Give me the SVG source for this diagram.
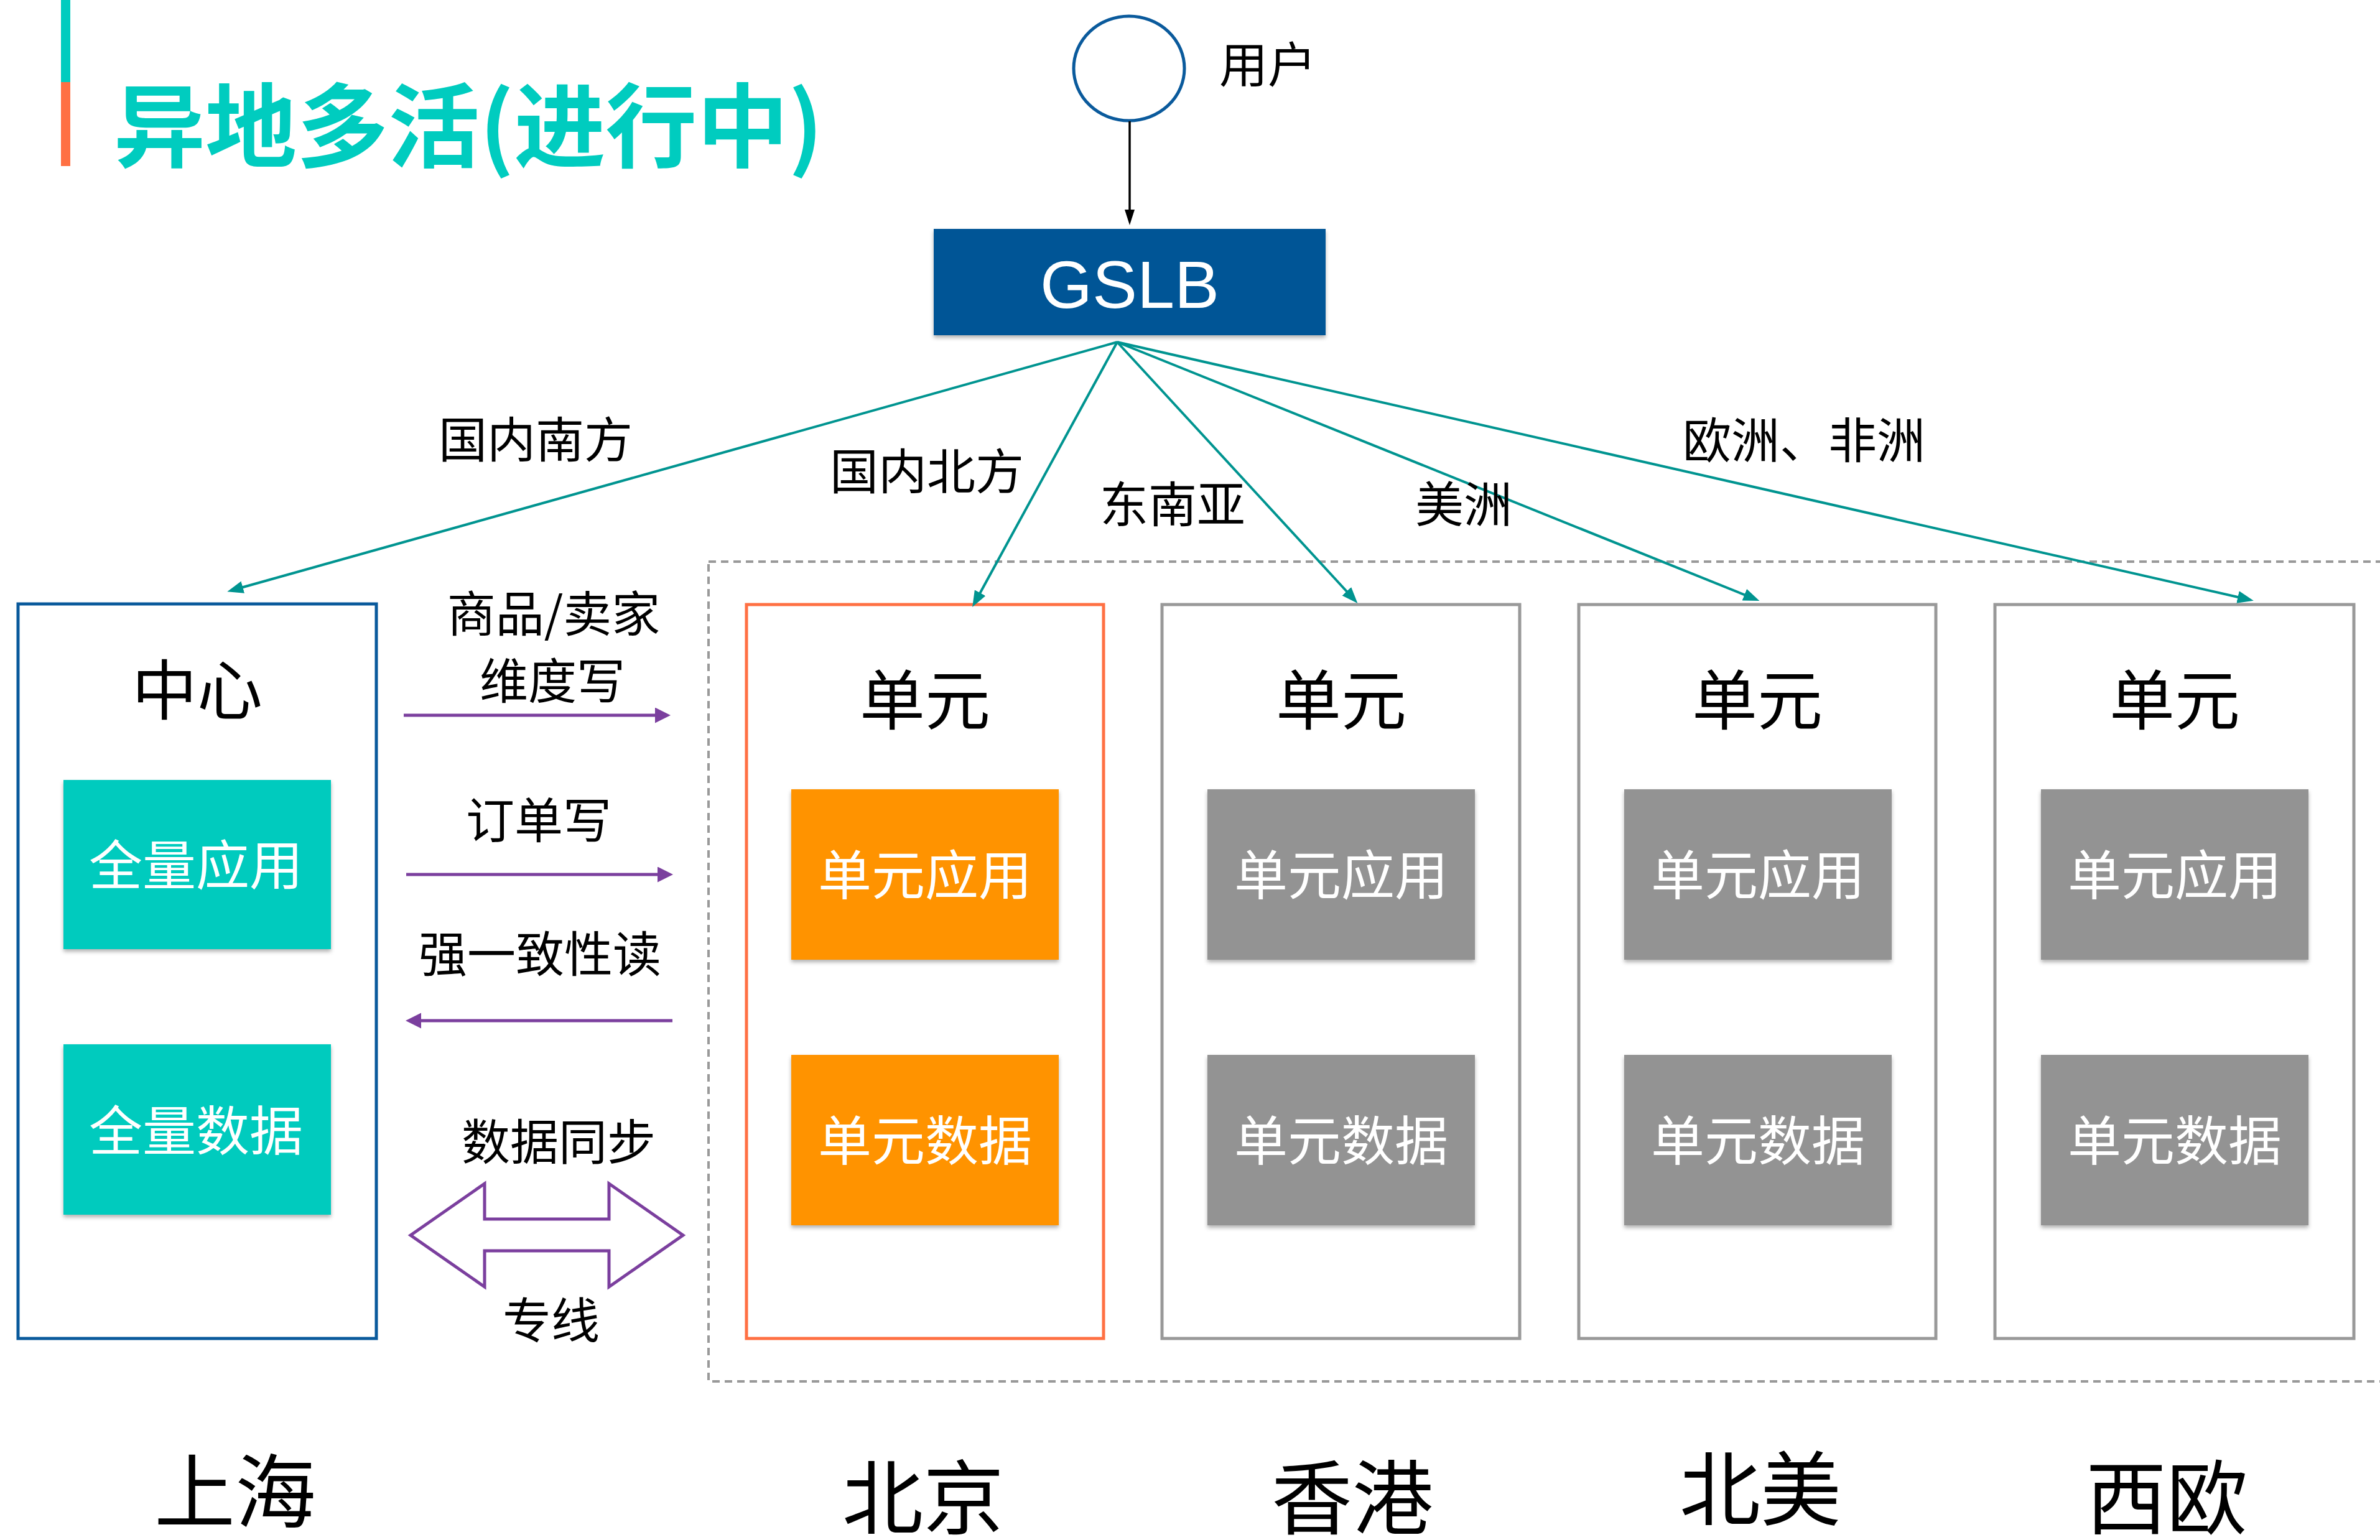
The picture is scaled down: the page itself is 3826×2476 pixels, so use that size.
<svg xmlns="http://www.w3.org/2000/svg" width="3826" height="2476" viewBox="0 0 3826 2476">
<style>
  .cjk { font-family: "Noto Sans CJK SC", "Noto Sans", sans-serif; }
  .lbl { font-family: "Noto Sans CJK SC", "Noto Sans", sans-serif; font-size: 78px; fill: #000; text-anchor: middle; }
  .inner { font-family: "Noto Sans CJK SC", "Noto Sans", sans-serif; font-size: 86px; fill: #fff; text-anchor: middle; }
  .utitle { font-family: "Noto Sans CJK SC", "Noto Sans", sans-serif; font-size: 105px; fill: #000; text-anchor: middle; }
  .city { font-family: "Noto Sans CJK SC", "Noto Sans", sans-serif; font-size: 130px; fill: #000; text-anchor: middle; }
  .unitbox { fill: #fff; stroke: #999999; stroke-width: 5; }
  .grey { fill: #939393; }
  .orange { fill: #FF9300; }
  .teal { fill: #00CBBE; }
  .tline { stroke: #009490; stroke-width: 4; fill: none; marker-end: url(#tealArrow); }
  .pline { stroke: #7B3F9E; stroke-width: 5; fill: none; }
</style>
<defs>
  <marker id="tealArrow" markerUnits="userSpaceOnUse" markerWidth="30" markerHeight="22" refX="18" refY="10" orient="auto">
    <path d="M0,0 L26,10 L0,20 z" fill="#009490"/>
  </marker>
  <marker id="blackArrow" markerUnits="userSpaceOnUse" markerWidth="28" markerHeight="18" refX="18" refY="8" orient="auto">
    <path d="M0,0 L25,8 L0,16 z" fill="#000"/>
  </marker>
  <marker id="purpleArrow" markerUnits="userSpaceOnUse" markerWidth="28" markerHeight="26" refX="18" refY="12.5" orient="auto">
    <path d="M0,0 L25,12.5 L0,25 z" fill="#7B3F9E"/>
  </marker>
  <filter id="shadow" x="-5%" y="-5%" width="110%" height="120%">
    <feDropShadow dx="0" dy="4" stdDeviation="3" flood-color="#000" flood-opacity="0.3"/>
  </filter>
</defs>
<rect x="0" y="0" width="3826" height="2476" fill="#fff"/>

<g id="title">
  <rect x="98" y="0" width="15" height="132" fill="#00CCBF"/>
  <rect x="98" y="132" width="15" height="135" fill="#FF7043"/>
  <text x="183" y="257" class="cjk" font-size="147" font-weight="bold" fill="#00CCBF">异地多活(进行中)</text>
</g>

<g id="dashed-region">
  <rect x="1139" y="903" width="2740" height="1318" fill="none" stroke="#999999" stroke-width="4" stroke-dasharray="12 8"/>
</g>

<g id="user">
  <ellipse cx="1815" cy="110" rx="89" ry="84" fill="#fff" stroke="#0A5A9C" stroke-width="5"/>
  <text x="1960" y="133" class="cjk" font-size="78" fill="#000">用户</text>
</g>

<g id="gslb">
  <rect x="1501" y="368" width="630" height="171" fill="#035596" filter="url(#shadow)"/>
  <text x="1816" y="495" font-family="Liberation Sans, Arial, sans-serif" font-size="108" fill="#fff" text-anchor="middle">GSLB</text>
</g>

<g id="center">
  <rect x="29" y="971" width="576" height="1181" fill="#fff" stroke="#0A5A9C" stroke-width="5"/>
  <text x="317" y="1148" class="utitle">中心</text>
  <rect x="102" y="1254" width="430" height="272" class="teal" filter="url(#shadow)"/>
  <text x="315" y="1423" class="inner">全量应用</text>
  <rect x="102" y="1679" width="430" height="274" class="teal" filter="url(#shadow)"/>
  <text x="315" y="1850" class="inner">全量数据</text>
</g>

<g id="unit-beijing">
  <rect x="1200" y="972" width="574" height="1180" fill="#fff" stroke="#FF7043" stroke-width="5"/>
  <text x="1487" y="1164" class="utitle">单元</text>
  <rect x="1272" y="1269" width="430" height="274" class="orange" filter="url(#shadow)"/>
  <text x="1487" y="1439" class="inner">单元应用</text>
  <rect x="1272" y="1696" width="430" height="274" class="orange" filter="url(#shadow)"/>
  <text x="1487" y="1866" class="inner">单元数据</text>
</g>

<g id="unit-hongkong">
  <rect x="1868" y="972" width="575" height="1180" class="unitbox"/>
  <text x="2156" y="1164" class="utitle">单元</text>
  <rect x="1941" y="1269" width="430" height="274" class="grey" filter="url(#shadow)"/>
  <text x="2156" y="1439" class="inner">单元应用</text>
  <rect x="1941" y="1696" width="430" height="274" class="grey" filter="url(#shadow)"/>
  <text x="2156" y="1866" class="inner">单元数据</text>
</g>

<g id="unit-northamerica">
  <rect x="2538" y="972" width="574" height="1180" class="unitbox"/>
  <text x="2825" y="1164" class="utitle">单元</text>
  <rect x="2611" y="1269" width="430" height="274" class="grey" filter="url(#shadow)"/>
  <text x="2826" y="1439" class="inner">单元应用</text>
  <rect x="2611" y="1696" width="430" height="274" class="grey" filter="url(#shadow)"/>
  <text x="2826" y="1866" class="inner">单元数据</text>
</g>

<g id="unit-westeurope">
  <rect x="3207" y="972" width="577" height="1180" class="unitbox"/>
  <text x="3496" y="1164" class="utitle">单元</text>
  <rect x="3281" y="1269" width="430" height="274" class="grey" filter="url(#shadow)"/>
  <text x="3496" y="1439" class="inner">单元应用</text>
  <rect x="3281" y="1696" width="430" height="274" class="grey" filter="url(#shadow)"/>
  <text x="3496" y="1866" class="inner">单元数据</text>
</g>

<g id="sync">
  <path d="M660,1986 L779,1903 L779,1960 L979,1960 L979,1903 L1098,1986 L979,2069 L979,2011 L779,2011 L779,2069 Z" fill="#fff" stroke="#7B3F9E" stroke-width="5" stroke-linejoin="miter"/>
</g>

<g id="connectors">
  <line x1="1816" y1="195" x2="1816" y2="355" stroke="#000" stroke-width="3.5" marker-end="url(#blackArrow)"/>
  <line x1="1796" y1="550" x2="373" y2="949" class="tline"/>
  <line x1="1796" y1="550" x2="1567" y2="969" class="tline"/>
  <line x1="1796" y1="550" x2="2177" y2="964" class="tline"/>
  <line x1="1796" y1="550" x2="2821" y2="963" class="tline"/>
  <line x1="1796" y1="550" x2="3615" y2="964" class="tline"/>
  <line x1="649" y1="1150" x2="1071" y2="1150" class="pline" marker-end="url(#purpleArrow)"/>
  <line x1="653" y1="1406" x2="1075" y2="1406" class="pline" marker-end="url(#purpleArrow)"/>
  <line x1="1081" y1="1641" x2="659" y2="1641" class="pline" marker-end="url(#purpleArrow)"/>
</g>

<g id="labels">
  <text x="861" y="736" class="lbl">国内南方</text>
  <text x="1490" y="787" class="lbl">国内北方</text>
  <text x="1885" y="840" class="lbl">东南亚</text>
  <text x="2353" y="840" class="lbl">美洲</text>
  <text x="2900" y="737" class="lbl">欧洲、非洲</text>
  <text x="890" y="1016" class="lbl">商品/卖家</text>
  <text x="888" y="1124" class="lbl">维度写</text>
  <text x="866" y="1348" class="lbl">订单写</text>
  <text x="868" y="1563" class="lbl">强一致性读</text>
  <text x="898" y="1865" class="lbl">数据同步</text>
  <text x="886" y="2152" class="lbl">专线</text>
</g>

<g id="cities">
  <text x="378" y="2446" class="city">上海</text>
  <text x="1484" y="2456" class="city">北京</text>
  <text x="2174" y="2456" class="city">香港</text>
  <text x="2830" y="2442" class="city">北美</text>
  <text x="3483" y="2456" class="city">西欧</text>
</g>
</svg>
